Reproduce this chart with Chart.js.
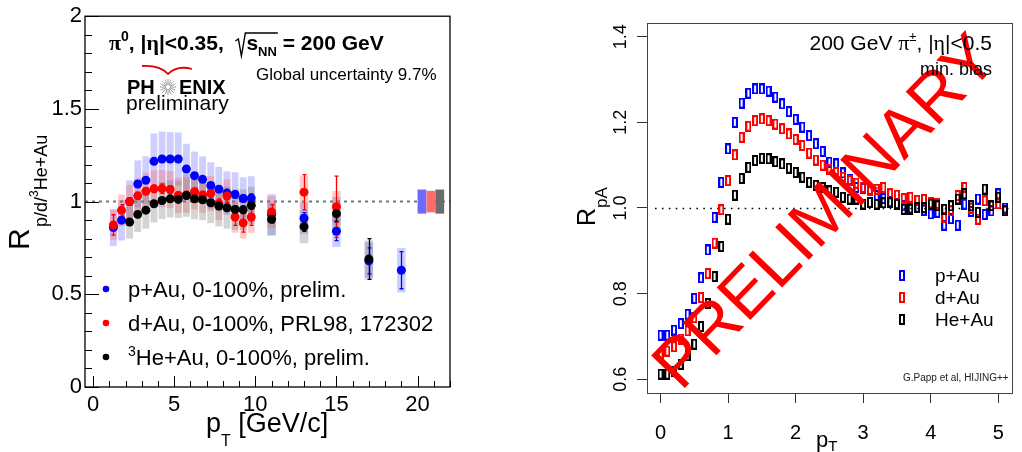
<!DOCTYPE html>
<html><head><meta charset="utf-8">
<script src="https://cdn.jsdelivr.net/npm/chart.js@4.4.1/dist/chart.umd.min.js"></script>
<style>
html,body{margin:0;padding:0;background:#fff;}
#wrap{position:relative;width:1022px;height:452px;overflow:hidden;}
#left{position:absolute;left:0;top:0;}
#right{position:absolute;left:520px;top:0;}
</style></head><body>
<div id="wrap"><canvas id="left" width="520" height="452"></canvas><canvas id="right" width="502" height="452"></canvas></div>
<script>
// ---- left panel: PHENIX pi0 R_AB ----
const ptP = [1.25, 1.75, 2.25, 2.75, 3.25, 3.75, 4.25, 4.75, 5.25, 5.75, 6.25, 6.75, 7.25, 7.75, 8.25, 8.75, 9.25, 9.75, 11, 13, 15, 17, 19];
const pAu = [0.86, 0.90, 1.00, 1.095, 1.115, 1.217, 1.23, 1.23, 1.23, 1.176, 1.14, 1.12, 1.087, 1.067, 1.046, 1.038, 1.017, 1.019, 0.93, 0.91, 0.84, 0.68, 0.63];
const pAuStat = [0.015, 0.012, 0.01, 0.01, 0.01, 0.01, 0.01, 0.01, 0.01, 0.012, 0.012, 0.012, 0.014, 0.015, 0.016, 0.018, 0.02, 0.022, 0.02, 0.03, 0.05, 0.07, 0.1];
const pAuSys = [0.10, 0.11, 0.114, 0.127, 0.129, 0.15, 0.148, 0.145, 0.143, 0.136, 0.13, 0.124, 0.125, 0.12, 0.117, 0.12, 0.114, 0.118, 0.11, 0.085, 0.085, 0.1, 0.12];

const ptD = [1.25, 1.75, 2.25, 2.75, 3.25, 3.75, 4.25, 4.75, 5.25, 5.75, 6.25, 6.75, 7.25, 7.75, 8.25, 8.75, 9.25, 9.75, 11, 13, 15];
const dAu = [0.874, 0.953, 1.0, 1.031, 1.056, 1.069, 1.07, 1.065, 1.033, 1.035, 1.053, 1.035, 1.044, 0.99, 1.03, 0.917, 0.885, 0.917, 0.944, 1.051, 0.972];
const dAuStat = [0.055, 0.03, 0.02, 0.015, 0.015, 0.02, 0.025, 0.02, 0.02, 0.02, 0.02, 0.02, 0.02, 0.025, 0.035, 0.045, 0.05, 0.045, 0.04, 0.095, 0.165];
const dAuSys = [0.08, 0.085, 0.09, 0.095, 0.1, 0.1, 0.1, 0.1, 0.095, 0.095, 0.095, 0.095, 0.095, 0.09, 0.09, 0.085, 0.085, 0.085, 0.085, 0.09, 0.085];

const ptHe = [2.25, 2.75, 3.25, 3.75, 4.25, 4.75, 5.25, 5.75, 6.25, 6.75, 7.25, 7.75, 8.25, 8.75, 9.25, 9.75, 11, 13, 15, 17];
const heAu = [0.89, 0.931, 0.954, 0.988, 1.006, 1.015, 1.012, 1.033, 1.015, 1.01, 0.994, 0.976, 0.967, 0.958, 0.956, 0.98, 0.905, 0.865, 0.935, 0.69];
const heAuStat = [0.01, 0.01, 0.01, 0.01, 0.01, 0.01, 0.01, 0.012, 0.012, 0.012, 0.014, 0.015, 0.016, 0.018, 0.02, 0.022, 0.02, 0.025, 0.04, 0.11];
const heAuSys = [0.09, 0.095, 0.1, 0.1, 0.1, 0.1, 0.1, 0.115, 0.11, 0.11, 0.11, 0.11, 0.113, 0.11, 0.11, 0.1, 0.09, 0.09, 0.09, 0.1];

// global normalisation boxes (p, d, He)
const globalX = [20.27, 20.82, 21.37];
const globalHalf = [0.065, 0.058, 0.065];

const xTicksL = [0, 5, 10, 15, 20];
const yTicksL = [0, 0.5, 1, 1.5, 2];

// ---- right panel: HIJING++ R_pA ----
const ptHij = [0.0, 0.1, 0.2, 0.3, 0.4, 0.5, 0.6, 0.7, 0.8, 0.9, 1.0, 1.1, 1.2, 1.3, 1.4, 1.5, 1.6, 1.7, 1.8, 1.9, 2.0, 2.1, 2.2, 2.3, 2.4, 2.5, 2.6, 2.7, 2.8, 2.9, 3.0, 3.1, 3.2, 3.3, 3.4, 3.5, 3.6, 3.7, 3.8, 3.9, 4.0, 4.1, 4.2, 4.3, 4.4, 4.5, 4.6, 4.7, 4.8, 4.9, 5.0, 5.1];
const pAuHij = [0.703, 0.703, 0.715, 0.730, 0.752, 0.789, 0.837, 0.902, 0.978, 1.060, 1.138, 1.200, 1.245, 1.268, 1.278, 1.278, 1.273, 1.259, 1.243, 1.225, 1.207, 1.189, 1.169, 1.150, 1.132, 1.107, 1.103, 1.082, 1.066, 1.048, 1.046, 1.043, 1.029, 1.022, 1.015, 1.010, 1.005, 1.000, 1.002, 0.995, 0.986, 0.990, 0.960, 0.975, 0.960, 1.009, 0.992, 1.021, 0.985, 0.993, 1.033, 1.000];
const dAuHij = [0.660, 0.666, 0.676, 0.694, 0.713, 0.744, 0.791, 0.847, 0.918, 0.996, 1.064, 1.124, 1.165, 1.191, 1.204, 1.208, 1.204, 1.196, 1.185, 1.173, 1.160, 1.146, 1.128, 1.112, 1.100, 1.091, 1.083, 1.072, 1.064, 1.058, 1.048, 1.041, 1.044, 1.048, 1.033, 1.030, 1.022, 1.025, 1.018, 1.020, 1.012, 1.010, 0.978, 0.993, 1.029, 1.048, 1.000, 0.974, 1.017, 1.005, 1.010, 0.995];
const heAuHij = [0.612, 0.612, 0.619, 0.635, 0.655, 0.682, 0.723, 0.777, 0.840, 0.910, 0.974, 1.030, 1.069, 1.095, 1.111, 1.116, 1.115, 1.108, 1.103, 1.093, 1.083, 1.072, 1.060, 1.053, 1.048, 1.040, 1.037, 1.025, 1.021, 1.021, 1.009, 1.013, 1.009, 1.012, 1.012, 1.009, 0.997, 0.997, 1.001, 1.001, 1.009, 1.005, 0.997, 1.005, 1.021, 1.033, 1.005, 0.990, 1.044, 1.005, 1.025, 0.993];

const xTicksR = [0, 1, 2, 3, 4, 5];
const yTicksR = [0.6, 0.8, 1.0, 1.2, 1.4];
const yTickLabelsR = ['0.6', '0.8', '1.0', '1.2', '1.4'];

const SANS = "'Liberation Sans', Arial, Helvetica, sans-serif";
const SERIF = "'Liberation Serif', 'Times New Roman', serif";
Chart.defaults.font.family = SANS;
Chart.defaults.color = '#000';

// draws text pieces one after another, returns end x
function drawRuns(ctx, x, y, runs, measureOnly) {
  let cx = x;
  runs.forEach(r => {
    ctx.font = r.f;
    if (!measureOnly) ctx.fillText(r.t, cx, y + (r.dy || 0));
    cx += ctx.measureText(r.t).width;
  });
  return cx;
}

// black on top, blue at the back
const leftSeries = [
  {name: '3He+Au', x: ptHe, y: heAu, stat: heAuStat, sys: heAuSys, color: '#000000', sysFill: 'rgba(120,120,120,0.32)'},
  {name: 'd+Au', x: ptD, y: dAu, stat: dAuStat, sys: dAuSys, color: '#ff0000', sysFill: 'rgba(255,80,80,0.30)'},
  {name: 'p+Au', x: ptP, y: pAu, stat: pAuStat, sys: pAuSys, color: '#0000ff', sysFill: 'rgba(110,110,255,0.33)'}
];
const globalColors = ['#6b6bff', '#ff6b6b', '#6b6b6b'];

const leftDecor = {
  id: 'leftDecor',
  beforeDatasetsDraw(chart) {
    const {ctx, chartArea: a, scales: {x, y}} = chart;
    ctx.save();
    [...leftSeries].reverse().forEach(s => {
      ctx.fillStyle = s.sysFill;
      s.x.forEach((v, i) => {
        const w = v < 10 ? 0.21 : 0.26;
        const x0 = x.getPixelForValue(v - w), x1 = x.getPixelForValue(v + w);
        const y0 = y.getPixelForValue(s.y[i] + s.sys[i]), y1 = y.getPixelForValue(s.y[i] - s.sys[i]);
        ctx.fillRect(x0, y0, x1 - x0, y1 - y0);
      });
    });
    // dotted unity line
    const y1 = y.getPixelForValue(1);
    ctx.strokeStyle = '#777';
    ctx.lineWidth = 2;
    ctx.setLineDash([3, 4]);
    ctx.beginPath(); ctx.moveTo(a.left, y1); ctx.lineTo(a.right, y1); ctx.stroke();
    ctx.setLineDash([]);
    // global uncertainty boxes
    globalX.forEach((v, i) => {
      const x0 = x.getPixelForValue(v - 0.27), x1 = x.getPixelForValue(v + 0.27);
      const t = y.getPixelForValue(1 + globalHalf[i]), b = y.getPixelForValue(1 - globalHalf[i]);
      ctx.fillStyle = globalColors[i];
      ctx.fillRect(x0, t, x1 - x0, b - t);
    });
    // statistical error bars
    [...leftSeries].reverse().forEach(s => {
      ctx.strokeStyle = s.color;
      ctx.lineWidth = 1.3;
      s.x.forEach((v, i) => {
        const px = Math.round(x.getPixelForValue(v)) + 0.5;
        const t = y.getPixelForValue(s.y[i] + s.stat[i]), b = y.getPixelForValue(s.y[i] - s.stat[i]);
        ctx.beginPath();
        ctx.moveTo(px, t); ctx.lineTo(px, b);
        ctx.moveTo(px - 2, t); ctx.lineTo(px + 2, t);
        ctx.moveTo(px - 2, b); ctx.lineTo(px + 2, b);
        ctx.stroke();
      });
    });
    ctx.restore();
  },
  afterDraw(chart) {
    const {ctx, chartArea: a, scales: {x, y}} = chart;
    ctx.save();
    ctx.strokeStyle = '#000';
    ctx.lineWidth = 1.3;
    ctx.strokeRect(a.left, a.top, a.right - a.left, a.bottom - a.top);
    // inner ticks
    ctx.lineWidth = 1;
    ctx.beginPath();
    for (let k = 0; k <= 20; k++) {
      const py = Math.round(y.getPixelForValue(k / 10)) + 0.5;
      const len = k % 5 === 0 ? 14 : 7;
      ctx.moveTo(a.left, py); ctx.lineTo(a.left + len, py);
    }
    for (let k = 0; k <= 22; k++) {
      const px = Math.round(x.getPixelForValue(k)) + 0.5;
      const len = k % 5 === 0 ? 11 : 6;
      ctx.moveTo(px, a.bottom); ctx.lineTo(px, a.bottom - len);
    }
    ctx.stroke();

    ctx.fillStyle = '#000';
    ctx.textBaseline = 'alphabetic';
    ctx.textAlign = 'left';
    // title
    let cx = drawRuns(ctx, 109, 50, [
      {t: 'π', f: `bold 22px ${SERIF}`},
      {t: '0', f: `bold 14px ${SANS}`, dy: -9},
      {t: ', |', f: `bold 21px ${SANS}`},
      {t: 'η', f: `bold 22px ${SERIF}`},
      {t: '|<0.35,  ', f: `bold 21px ${SANS}`}
    ]);
    const rx = cx;
    cx += 11;
    const ex = drawRuns(ctx, cx, 50, [
      {t: 's', f: `bold 21px ${SANS}`},
      {t: 'NN', f: `bold 13px ${SANS}`, dy: 6}
    ]);
    ctx.lineWidth = 1.4;
    ctx.beginPath();
    ctx.moveTo(rx, 41); ctx.lineTo(rx + 3, 39); ctx.lineTo(rx + 6, 56); ctx.lineTo(rx + 10, 33); ctx.lineTo(ex + 1, 33);
    ctx.stroke();
    drawRuns(ctx, ex, 50, [{t: ' = 200 GeV', f: `bold 21px ${SANS}`}]);
    ctx.font = `17px ${SANS}`;
    ctx.fillText('Global uncertainty 9.7%', 256, 80);

    // PHENIX logo
    ctx.font = `bold 20px ${SANS}`;
    ctx.fillText('PH', 127, 94);
    ctx.fillText('ENIX', 179, 94);
    ctx.strokeStyle = '#999';
    ctx.lineWidth = 1;
    ctx.beginPath();
    for (let k = 0; k < 16; k++) {
      const ang = k * Math.PI / 8;
      ctx.moveTo(168 + 2 * Math.cos(ang), 87 + 2 * Math.sin(ang));
      ctx.lineTo(168 + 8 * Math.cos(ang), 87 + 8 * Math.sin(ang));
    }
    ctx.stroke();
    ctx.strokeStyle = '#e00000';
    ctx.lineWidth = 1.8;
    ctx.beginPath();
    ctx.moveTo(142, 66);
    ctx.quadraticCurveTo(160, 65, 168, 74);
    ctx.quadraticCurveTo(177, 65, 192, 69);
    ctx.stroke();
    ctx.font = `21px ${SANS}`;
    ctx.fillText('preliminary', 126, 110);

    // legend
    const leg = [
      {c: '#0000ff', y: 289, runs: [{t: 'p+Au, 0-100%, prelim.', f: `22px ${SANS}`}]},
      {c: '#ff0000', y: 323, runs: [{t: 'd+Au, 0-100%, PRL98, 172302', f: `22px ${SANS}`}]},
      {c: '#000000', y: 357, runs: [{t: '3', f: `14px ${SANS}`, dy: -9}, {t: 'He+Au, 0-100%, prelim.', f: `22px ${SANS}`}]}
    ];
    leg.forEach(l => {
      ctx.fillStyle = l.c;
      ctx.beginPath(); ctx.arc(106, l.y, 3.3, 0, Math.PI * 2); ctx.fill();
      ctx.fillStyle = '#000';
      drawRuns(ctx, 128, l.y + 8, l.runs);
    });

    // axis titles
    drawRuns(ctx, 206, 432, [
      {t: 'p', f: `27px ${SANS}`},
      {t: 'T', f: `16px ${SANS}`, dy: 14},
      {t: ' [GeV/c]', f: `27px ${SANS}`}
    ]);
    ctx.save();
    ctx.translate(29, 250);
    ctx.rotate(-Math.PI / 2);
    drawRuns(ctx, 0, 0, [{t: 'R', f: `30px ${SANS}`}]);
    drawRuns(ctx, 23, 18, [
      {t: 'p/d/', f: `18px ${SANS}`},
      {t: '3', f: `12px ${SANS}`, dy: -9},
      {t: 'He+Au', f: `18px ${SANS}`}
    ]);
    ctx.restore();
    ctx.restore();
  }
};

new Chart(document.getElementById('left'), {
  type: 'scatter',
  data: {
    datasets: leftSeries.map(s => ({
      label: s.name,
      data: s.x.map((v, i) => ({x: v, y: s.y[i]})),
      backgroundColor: s.color,
      borderWidth: 0,
      pointRadius: 4.5,
      pointHoverRadius: 4.5
    }))
  },
  options: {
    responsive: false,
    animation: false,
    events: [],
    layout: {padding: {top: 14, right: 70, left: 0, bottom: 0}},
    plugins: {legend: {display: false}, tooltip: {enabled: false}},
    scales: {
      x: {
        type: 'linear', min: -0.5, max: 22,
        afterBuildTicks: s => { s.ticks = xTicksL.map(v => ({value: v})); },
        afterFit: s => { s.height = 65; },
        grid: {display: false, drawTicks: false},
        border: {display: false},
        ticks: {font: {size: 22}, color: '#000', padding: 5, maxRotation: 0, callback: v => String(v)}
      },
      y: {
        type: 'linear', min: 0, max: 2,
        afterBuildTicks: s => { s.ticks = yTicksL.map(v => ({value: v})); },
        afterFit: s => { s.width = 85; },
        grid: {display: false, drawTicks: false},
        border: {display: false},
        ticks: {font: {size: 22}, color: '#000', padding: 3, callback: v => String(v)}
      }
    }
  },
  plugins: [leftDecor]
});

// ---- right panel ----
function boxMarker(color) {
  const c = document.createElement('canvas');
  c.width = 6; c.height = 11;
  const g = c.getContext('2d');
  g.fillStyle = color;
  g.fillRect(0, 0, 6, 11);
  g.clearRect(2, 2, 2, 7);
  return c;
}
const rightSeries = [
  {name: 'He+Au', y: heAuHij, color: '#000000'},
  {name: 'd+Au', y: dAuHij, color: '#ff0000'},
  {name: 'p+Au', y: pAuHij, color: '#0000ff'}
];
rightSeries.forEach(s => { s.marker = boxMarker(s.color); });

const rightDecor = {
  id: 'rightDecor',
  beforeDatasetsDraw(chart) {
    const {ctx, chartArea: a, scales: {y}} = chart;
    ctx.save();
    const y1 = Math.round(y.getPixelForValue(1.0)) + 0.5;
    ctx.strokeStyle = '#000';
    ctx.lineWidth = 1.6;
    ctx.setLineDash([1.6, 5.3]);
    ctx.beginPath(); ctx.moveTo(a.left + 8, y1); ctx.lineTo(a.right, y1); ctx.stroke();
    ctx.restore();
  },
  afterDatasetsDraw(chart) {
    const {ctx} = chart;
    ctx.save();
    ctx.translate(161, 392);
    ctx.rotate(-46 * Math.PI / 180);
    ctx.fillStyle = '#ff0000';
    ctx.font = `68px ${SANS}`;
    ctx.textBaseline = 'alphabetic';
    ctx.fillText('PRELIMINARY', 0, 0);
    ctx.restore();
  },
  afterDraw(chart) {
    const {ctx, chartArea: a, scales: {y}} = chart;
    ctx.save();
    ctx.strokeStyle = '#444';
    ctx.lineWidth = 1;
    ctx.strokeRect(Math.round(a.left) + 0.5, Math.round(a.top) + 0.5, Math.round(a.right - a.left), Math.round(a.bottom - a.top));
    ctx.fillStyle = '#000';
    // rotated y tick labels
    yTicksR.forEach((v, i) => {
      ctx.save();
      ctx.translate(101, y.getPixelForValue(v));
      ctx.rotate(-Math.PI / 2);
      ctx.textAlign = 'center';
      ctx.textBaseline = 'middle';
      ctx.font = `18px ${SANS}`;
      ctx.fillText(yTickLabelsR[i], 0, 0);
      ctx.restore();
    });
    ctx.textAlign = 'left';
    ctx.textBaseline = 'alphabetic';
    // y title
    ctx.save();
    ctx.translate(75, 226);
    ctx.rotate(-Math.PI / 2);
    drawRuns(ctx, 0, 0, [{t: 'R', f: `25px ${SANS}`}]);
    drawRuns(ctx, 18, 12, [{t: 'pA', f: `17px ${SANS}`}]);
    ctx.restore();
    // x title
    drawRuns(ctx, 296, 447, [{t: 'p', f: `22px ${SANS}`}, {t: 'T', f: `15px ${SANS}`, dy: 4}]);
    // header texts, right aligned
    const head = [
      {t: '200 GeV ', f: `21px ${SANS}`},
      {t: 'π', f: `22px ${SERIF}`},
      {t: '±', f: `13px ${SANS}`, dy: -9},
      {t: ', |', f: `21px ${SANS}`},
      {t: 'η', f: `22px ${SERIF}`},
      {t: '|<0.5', f: `21px ${SANS}`}
    ];
    const hw = drawRuns(ctx, 0, 0, head, true);
    drawRuns(ctx, 472 - hw, 50, head);
    ctx.font = `18px ${SANS}`;
    ctx.textAlign = 'right';
    ctx.fillText('min. bias', 472, 75);
    ctx.textAlign = 'left';
    // legend
    const legY = [275, 297, 319];
    [rightSeries[2], rightSeries[1], rightSeries[0]].forEach((s, i) => {
      ctx.drawImage(s.marker, 379, legY[i] - 5);
      ctx.fillStyle = '#000';
      ctx.font = `19px ${SANS}`;
      ctx.fillText(s.name, 415, legY[i] + 7);
    });
    ctx.font = `10px ${SANS}`;
    ctx.fillStyle = '#222';
    ctx.fillText('G.Papp et al, HIJING++', 383, 381);
    ctx.restore();
  }
};

new Chart(document.getElementById('right'), {
  type: 'scatter',
  data: {
    datasets: rightSeries.map(s => ({
      label: s.name,
      data: ptHij.map((v, i) => ({x: v, y: s.y[i]})),
      pointStyle: s.marker,
      pointRadius: 4,
      borderWidth: 0
    }))
  },
  options: {
    responsive: false,
    animation: false,
    events: [],
    layout: {padding: {top: 23, right: 5, left: 0, bottom: 0}},
    plugins: {legend: {display: false}, tooltip: {enabled: false}},
    scales: {
      x: {
        type: 'linear', min: -0.2, max: 5.2,
        afterBuildTicks: s => { s.ticks = xTicksR.map(v => ({value: v})); },
        afterFit: s => { s.height = 59; },
        grid: {display: true, drawOnChartArea: false, drawTicks: true, tickLength: 10, color: '#333', lineWidth: 1},
        border: {display: false},
        ticks: {font: {size: 20}, color: '#000', padding: 18, maxRotation: 0}
      },
      y: {
        type: 'linear', min: 0.568, max: 1.432,
        afterBuildTicks: s => { s.ticks = yTicksR.map(v => ({value: v})); },
        afterFit: s => { s.width = 127; },
        grid: {display: true, drawOnChartArea: false, drawTicks: true, tickLength: 10, color: '#333', lineWidth: 1},
        border: {display: false},
        ticks: {display: false}
      }
    }
  },
  plugins: [rightDecor]
});
</script></body></html>
